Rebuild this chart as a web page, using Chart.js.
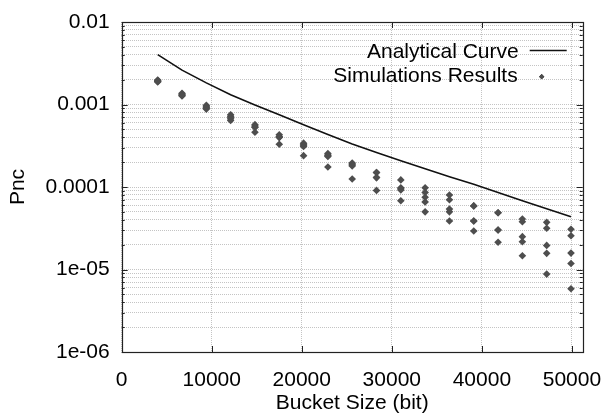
<!DOCTYPE html>
<html>
<head>
<meta charset="utf-8">
<script src="https://cdn.jsdelivr.net/npm/chart.js@4/dist/chart.umd.min.js"></script>
<style>
  html, body { margin: 0; padding: 0; background: #fff; }
  #wrap { width: 607px; height: 414px; }
</style>
</head>
<body>
<div id="wrap"><canvas id="pncChart" width="607" height="414"></canvas></div>
<script>
// bucket sizes (bit) where the curve and the simulations were evaluated
const bucketSizes = [4000, 6700, 9400, 12100, 14800, 17500, 20200, 22900, 25600, 28300,
                     31000, 33700, 36400, 39100, 41800, 44500, 47200, 49900];

// analytical Pnc at each bucket size
const analyticalPnc = [0.00403, 0.00261, 0.00183, 0.00131, 0.000984, 0.000751, 0.00057, 0.000434,
                       0.000332, 0.000262, 0.000208, 0.000166, 0.000133, 0.000108, 0.000086,
                       0.000068, 0.0000545, 0.0000437];

// simulated Pnc, one small list per bucket size
const simulatedPnc = [
    [0.00198, 0.00195, 0.00192, 0.0019, 0.00188],
    [0.00137, 0.00134, 0.00131, 0.00129, 0.00127],
    [0.00098, 0.00095, 0.00092, 0.0009, 0.00088],
    [0.00075, 0.00072, 0.0007, 0.00067, 0.00064],
    [0.00057, 0.00055, 0.00053, 0.00053, 0.00046],
    [0.00043, 0.00041, 0.0004, 0.0004, 0.00033],
    [0.00034, 0.00033, 0.00032, 0.00031, 0.00024],
    [0.000255, 0.000245, 0.00024, 0.000235, 0.000175],
    [0.000195, 0.00019, 0.000185, 0.00018, 0.000125],
    [0.00015, 0.00015, 0.00013, 0.00013, 0.000091],
    [0.000122, 0.000098, 0.000095, 0.000092, 0.000068],
    [0.000098, 0.000086, 0.000075, 0.000066, 0.00005],
    [0.00008, 0.00007, 0.000054, 0.00005, 0.0000387],
    [0.000059, 0.000059, 0.0000387, 0.0000387, 0.0000293],
    [0.0000487, 0.0000487, 0.0000301, 0.0000301, 0.0000214],
    [0.000041, 0.000038, 0.000025, 0.0000217, 0.0000147],
    [0.0000373, 0.0000316, 0.0000196, 0.0000157, 0.0000088],
    [0.0000307, 0.0000257, 0.0000158, 0.0000118, 0.00000585]
];

// axis ticks
const xTicks = [0, 10000, 20000, 30000, 40000, 50000];
const yMajorTicks = [1e-6, 1e-5, 1e-4, 1e-3, 1e-2];
const yTickLabels = ['1e-06', '1e-05', '0.0001', '0.001', '0.01'];

const FONT = 'Liberation Sans, Arial, Helvetica, sans-serif';

// minor log ticks 2..9 inside each decade
let yAllTicks = [];
yMajorTicks.forEach((v, i) => {
    yAllTicks.push(v);
    if (i < yMajorTicks.length - 1) {
        for (let m = 2; m <= 9; m++) yAllTicks.push(+(v * m).toPrecision(3));
    }
});

function labelFor(val) {
    let idx = yMajorTicks.findIndex(v => Math.abs(v - val) / v < 1e-6);
    return idx >= 0 ? yTickLabels[idx] : '';
}

let curvePoints = bucketSizes.map((x, i) => ({ x: x, y: analyticalPnc[i] }));
let simPoints = [];
bucketSizes.forEach((x, i) => {
    simulatedPnc[i].forEach(y => simPoints.push({ x: x, y: y }));
});

// frame, inward gnuplot-style tick marks, and the in-plot key
const framePlugin = {
    id: 'frame',
    beforeDatasetsDraw(chart) {
        const ctx = chart.ctx;
        const a = chart.chartArea;
        const xs = chart.scales.x, ys = chart.scales.y;
        ctx.save();
        ctx.setLineDash([]);
        ctx.strokeStyle = '#222';
        ctx.lineWidth = 1;
        ctx.beginPath();
        xTicks.forEach(v => {
            let px = Math.round(xs.getPixelForValue(v)) + 0.5;
            ctx.moveTo(px, a.bottom); ctx.lineTo(px, a.bottom - 6);
            ctx.moveTo(px, a.top); ctx.lineTo(px, a.top + 6);
        });
        yAllTicks.forEach(v => {
            let major = labelFor(v) !== '';
            let len = major ? 6 : 3;
            let py = Math.round(ys.getPixelForValue(v)) + 0.5;
            ctx.moveTo(a.left, py); ctx.lineTo(a.left + len, py);
            ctx.moveTo(a.right, py); ctx.lineTo(a.right - len, py);
        });
        ctx.stroke();
        ctx.lineWidth = 1.2;
        ctx.strokeRect(Math.round(a.left) + 0.5, Math.round(a.top) + 0.5,
                       Math.round(a.right - a.left), Math.round(a.bottom - a.top));
        ctx.restore();
    },
    afterDatasetsDraw(chart) {
        const ctx = chart.ctx;
        const a = chart.chartArea;
        const ds = chart.data.datasets;
        ctx.save();
        ctx.font = '21px ' + FONT;
        ctx.fillStyle = '#000';
        ctx.textAlign = 'right';
        ctx.textBaseline = 'middle';
        let textRight = a.right - 64;
        // first key entry: line sample
        ctx.fillText(ds[0].label, textRight, a.top + 30);
        ctx.strokeStyle = ds[0].borderColor;
        ctx.lineWidth = ds[0].borderWidth;
        ctx.beginPath();
        ctx.moveTo(a.right - 53, a.top + 28.5);
        ctx.lineTo(a.right - 16, a.top + 28.5);
        ctx.stroke();
        // second key entry: diamond
        ctx.fillText(ds[1].label, textRight - 1, a.top + 54);
        Chart.helpers.drawPoint(ctx, {
            pointStyle: 'rectRot', radius: 2.6, borderWidth: 0, rotation: 0
        }, a.right - 41, a.top + 54.7);
        ctx.fillStyle = ds[1].backgroundColor;
        ctx.fill();
        ctx.restore();
    }
};

const ctx = document.getElementById('pncChart').getContext('2d');
const pncChart = new Chart(ctx, {
    type: 'scatter',
    data: {
        datasets: [{
            label: 'Analytical Curve',
            data: curvePoints,
            showLine: true,
            borderColor: '#111',
            borderWidth: 1.6,
            pointRadius: 0,
            tension: 0,
            fill: false
        }, {
            label: 'Simulations Results',
            data: simPoints,
            showLine: false,
            pointStyle: 'rectRot',
            pointRadius: 3.8,
            borderWidth: 0,
            backgroundColor: '#4e4e4e',
            borderColor: '#4e4e4e'
        }]
    },
    options: {
        responsive: false,
        animation: false,
        layout: { padding: { top: 22, right: 24.3, left: 0, bottom: 0 } },
        plugins: {
            legend: { display: false },
            tooltip: { enabled: false }
        },
        scales: {
            x: {
                type: 'linear',
                min: 0,
                max: 51200,
                afterBuildTicks: s => { s.ticks = xTicks.map(v => ({ value: v })); },
                afterFit: s => {
                    s.height = 62;
                    s.paddingLeft = 0;
                    s.paddingRight = 0;
                },
                grid: { color: '#c4c4c4', drawTicks: false, lineWidth: 1 },
                border: { display: false, dash: [1, 1] },
                ticks: {
                    autoSkip: false,
                    maxRotation: 0,
                    padding: 16,
                    color: '#000',
                    font: { family: FONT, size: 21 },
                    callback: v => String(v)
                },
                title: {
                    display: true,
                    text: 'Bucket Size (bit)',
                    color: '#000',
                    font: { family: FONT, size: 21, lineHeight: 1 },
                    padding: { top: 0, bottom: 0 }
                }
            },
            y: {
                type: 'logarithmic',
                min: 1e-6,
                max: 1e-2,
                afterBuildTicks: s => { s.ticks = yAllTicks.map(v => ({ value: v })); },
                afterFit: s => {
                    s.width = 121.7;
                    s.paddingTop = 0;
                    s.paddingBottom = 0;
                },
                grid: { color: '#c4c4c4', drawTicks: false, lineWidth: 1 },
                border: { display: false, dash: [1, 1] },
                ticks: {
                    autoSkip: false,
                    padding: 12,
                    color: '#000',
                    font: { family: FONT, size: 21 },
                    callback: v => labelFor(v)
                },
                title: {
                    display: true,
                    text: 'Pnc',
                    color: '#000',
                    font: { family: FONT, size: 21, lineHeight: 1 },
                    padding: { top: 7.5, bottom: 0 }
                }
            }
        }
    },
    plugins: [framePlugin]
});
</script>
</body>
</html>
